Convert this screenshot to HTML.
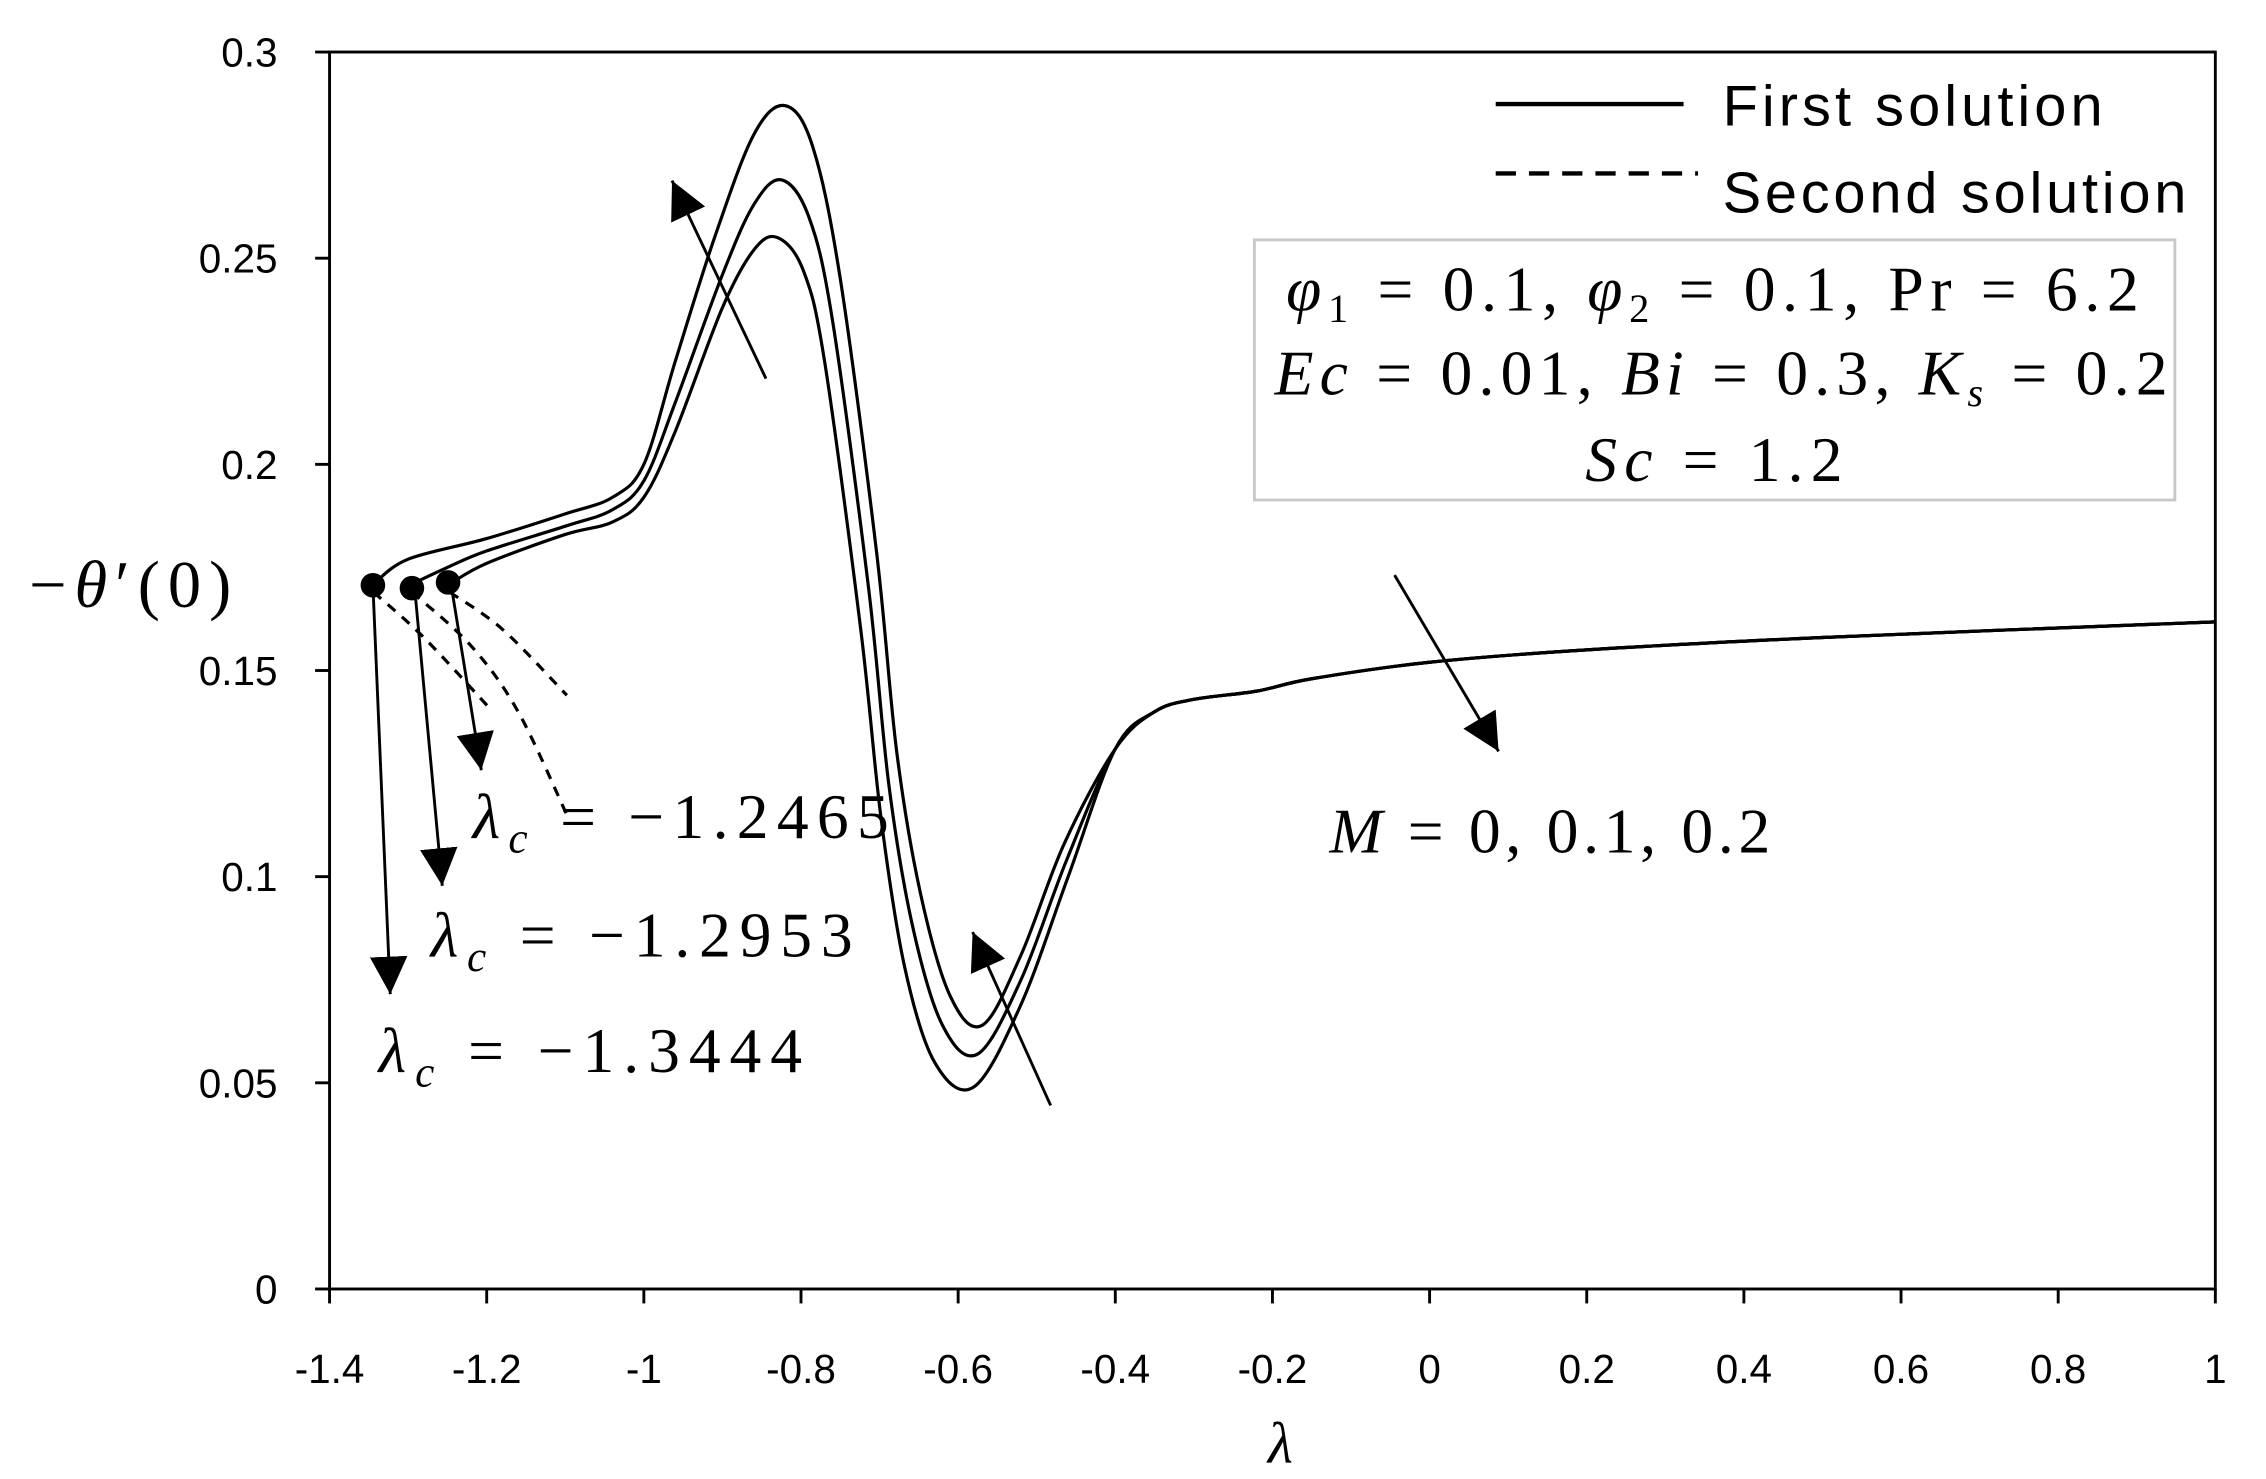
<!DOCTYPE html>
<html><head><meta charset="utf-8"><style>
html,body{margin:0;padding:0;background:#fff;}
svg{display:block}
text{fill:#000}
.t{font-family:"Liberation Sans",sans-serif;font-size:28px}
.m{font-family:"Liberation Serif","DejaVu Serif",serif;font-size:44px}
</style></head><body>
<svg id="s" width="2266" height="1479" viewBox="0 0 1568 1023.5" xmlns="http://www.w3.org/2000/svg">
<defs>
<marker id="a" viewBox="0 0 10 10" refX="10" refY="5" markerWidth="26" markerHeight="26" markerUnits="userSpaceOnUse" orient="auto"><path d="M0,0L10,5L0,10z" fill="#000"/></marker></defs>
<rect x="228" y="36" width="1305" height="856" fill="none" stroke="#000" stroke-width="2"/>
<g id="ticks" stroke="#000" stroke-width="2"></g>
<g id="lbl" class="t"></g>
<g id="curves" fill="none" stroke="#000" stroke-width="2.2"></g>
<line x1="1035" y1="72" x2="1165" y2="72" stroke="#000" stroke-width="3"/>
<line x1="1035" y1="120" x2="1175" y2="120" stroke="#000" stroke-width="3" stroke-dasharray="14,9"/>
<text x="1192" y="87" textLength="263" lengthAdjust="spacing" style="font-family:'Liberation Sans',sans-serif;font-size:40px">First solution</text>
<text x="1192" y="147" textLength="321" lengthAdjust="spacing" style="font-family:'Liberation Sans',sans-serif;font-size:40px">Second solution</text>
<rect x="868" y="166" width="637" height="180" fill="none" stroke="#c8c8c8" stroke-width="2"/>
<text class="m" x="890" y="215" textLength="590" lengthAdjust="spacing"><tspan font-style="italic">φ</tspan><tspan font-size="28" dy="8">1</tspan><tspan dy="-8"> = 0.1, </tspan><tspan font-style="italic">φ</tspan><tspan font-size="28" dy="8">2</tspan><tspan dy="-8"> = 0.1, Pr = 6.2</tspan></text>
<text class="m" x="882" y="273" textLength="618" lengthAdjust="spacing"><tspan font-style="italic">Ec</tspan> = 0.01, <tspan font-style="italic">Bi</tspan> = 0.3, <tspan font-style="italic">K</tspan><tspan font-size="28" dy="8" font-style="italic">s</tspan><tspan dy="-8"> = 0.2</tspan></text>
<text class="m" x="1097" y="333" textLength="178" lengthAdjust="spacing"><tspan font-style="italic">Sc</tspan> = 1.2</text>
<text class="m" x="920" y="590" textLength="305" lengthAdjust="spacing"><tspan font-style="italic">M</tspan> = 0, 0.1, 0.2</text>
<text class="m" x="327" y="580" textLength="288" lengthAdjust="spacing"><tspan font-style="italic">λ</tspan><tspan font-size="30" dy="10" font-style="italic">c</tspan><tspan dy="-10"> = −1.2465</tspan></text>
<text class="m" x="298" y="662" textLength="292" lengthAdjust="spacing"><tspan font-style="italic">λ</tspan><tspan font-size="30" dy="10" font-style="italic">c</tspan><tspan dy="-10"> = −1.2953</tspan></text>
<text class="m" x="262" y="742" textLength="293" lengthAdjust="spacing"><tspan font-style="italic">λ</tspan><tspan font-size="30" dy="10" font-style="italic">c</tspan><tspan dy="-10"> = −1.3444</tspan></text>
<text class="m" x="20" y="420" textLength="140" lengthAdjust="spacing" style="font-size:46px">−<tspan font-style="italic">θ</tspan>′(0)</text>
<text class="m" x="886" y="1012" text-anchor="middle" font-style="italic" style="font-size:40px">λ</text>
<g stroke="#000" stroke-width="2" marker-end="url(#a)">
<line x1="530" y1="262" x2="465" y2="125"/>
<line x1="727" y1="765" x2="673" y2="645"/>
<line x1="965" y1="398" x2="1037" y2="520"/>
<line x1="258" y1="405" x2="270" y2="688"/>
<line x1="287" y1="408" x2="306" y2="613"/>
<line x1="312" y1="404" x2="333" y2="533"/>
</g>
<circle cx="258" cy="405" r="8.5"/><circle cx="285" cy="407" r="8.5"/><circle cx="310" cy="403" r="8.5"/>
</svg>
<script>
var NS="http://www.w3.org/2000/svg";
function X(l){return 228+(l+1.4)*543.75}function Y(v){return 892-v*2853.3}
function el(p,n,a,t){var e=document.createElementNS(NS,n);for(var k in a)e.setAttribute(k,a[k]);if(t)e.textContent=t;p.appendChild(e);return e}
var tk=document.getElementById('ticks'),lb=document.getElementById('lbl');
for(var i=0;i<=6;i++){var v=i*0.05,y=Y(v);el(tk,'line',{x1:218,y1:y,x2:228,y2:y});el(lb,'text',{x:192,y:y+10,'text-anchor':'end'},String(+v.toFixed(2)));}
for(var i=0;i<=12;i++){var l=-1.4+i*0.2,x=X(l);el(tk,'line',{x1:x,y1:892,x2:x,y2:902});var s=String(+l.toFixed(1));el(lb,'text',{x:x,y:957,'text-anchor':'middle'},s);}
var tail=[[-0.4,.131],[-0.35,.14],[-0.3,.143],[-0.22,.145],[-0.15,.148],[0,.152],[0.2,.155],[0.5,.158],[1,.1618]];
var C=[
[[-1.344,.171],[-1.3,.177],[-1.2,.182],[-1.1,.188],[-1.04,.192],[-1.0,.2],[-0.96,.225],[-0.91,.255],[-0.86,.28],[-0.82,.287],[-0.785,.277],[-0.75,.245],[-0.704,.179],[-0.678,.13],[-0.648,.096],[-0.61,.071],[-0.569,.064],[-0.52,.081],[-0.465,.108]].concat(tail),
[[-1.295,.171],[-1.25,.175],[-1.2,.179],[-1.1,.185],[-1.04,.189],[-1.0,.196],[-0.96,.215],[-0.9,.246],[-0.86,.263],[-0.825,.269],[-0.79,.26],[-0.76,.235],[-0.714,.17],[-0.688,.122],[-0.658,.088],[-0.62,.064],[-0.575,.057],[-0.52,.075],[-0.462,.104]].concat(tail),
[[-1.247,.171],[-1.2,.176],[-1.1,.183],[-1.04,.186],[-1.0,.192],[-0.96,.208],[-0.9,.238],[-0.86,.252],[-0.83,.255],[-0.797,.247],[-0.77,.225],[-0.724,.16],[-0.698,.114],[-0.668,.078],[-0.63,.055],[-0.58,.049],[-0.52,.069],[-0.46,.1]].concat(tail)];
var D=[[[-1.344,.169],[-1.28,.158],[-1.197,.141]],[[-1.295,.169],[-1.22,.156],[-1.16,.14],[-1.098,.115]],[[-1.247,.169],[-1.18,.16],[-1.098,.144]]];
function path(pts){var p=pts.map(function(q){return[X(q[0]),Y(q[1])]});var d="M"+p[0][0]+","+p[0][1];
for(var i=0;i<p.length-1;i++){var a=p[i>0?i-1:i],b=p[i],c=p[i+1],e=p[i+2<p.length?i+2:i+1];
d+="C"+(b[0]+(c[0]-a[0])/6)+","+(b[1]+(c[1]-a[1])/6)+" "+(c[0]-(e[0]-b[0])/6)+","+(c[1]-(e[1]-b[1])/6)+" "+c[0]+","+c[1];}return d}
var g=document.getElementById('curves');
C.forEach(function(c){el(g,'path',{d:path(c)})});
D.forEach(function(c){el(g,'path',{d:path(c),'stroke-dasharray':'7,6'})});
</script>
</body></html>
